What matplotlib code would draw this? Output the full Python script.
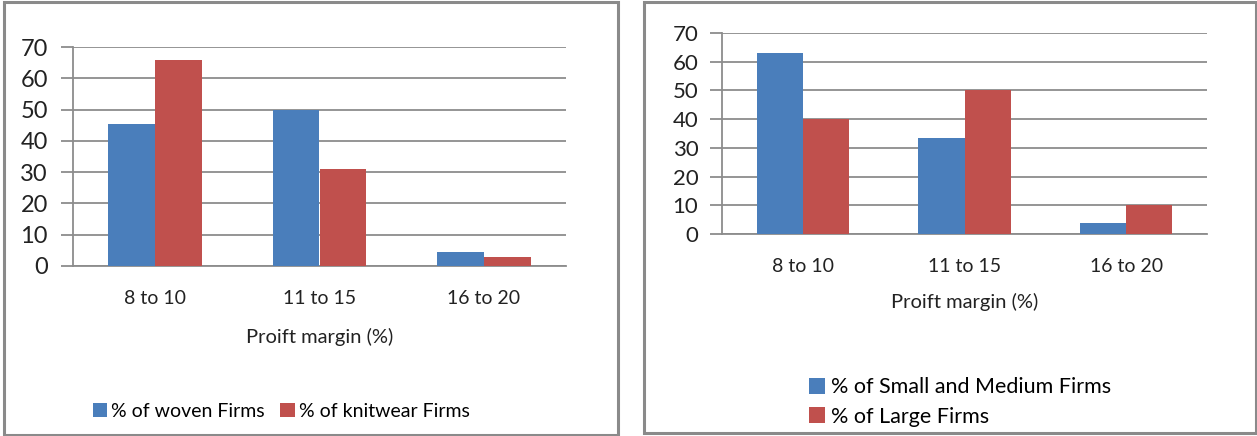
import matplotlib.pyplot as plt
import numpy as np
from matplotlib.patches import Rectangle

plt.rcParams['font.family'] = ['Lato', 'DejaVu Sans']

categories = ['8 to 10', '11 to 15', '16 to 20']
woven = [45.3, 50, 4.5]
knitwear = [66, 31, 3]
small_medium = [63, 33.3, 3.8]
large = [40, 50, 10]

BLUE = '#4a7ebb'
RED = '#c0504d'
GRID = '#8c8c8c'

W, H = 1257, 436
fig = plt.figure(figsize=(W / 100, H / 100), dpi=100)


def px_axes(x0, y0, x1, y1):
    # pixel box (top-left origin) -> figure axes
    return fig.add_axes([x0 / W, 1 - y1 / H, (x1 - x0) / W, (y1 - y0) / H])


def panel(x0, y0, x1, y1):
    fig.patches.append(Rectangle((x0 / W, 1 - y1 / H), (x1 - x0) / W, (y1 - y0) / H,
                                 transform=fig.transFigure, fill=False,
                                 edgecolor='#8a8a8a', linewidth=2.2))


def bars(ax, s1, s2, l1, l2, ytick_size, pad, xlab_pad):
    x = np.arange(len(categories))
    w = 0.286
    b1 = ax.bar(x - w / 2, s1, w, color=BLUE, label=l1, zorder=3)
    b2 = ax.bar(x + w / 2, s2, w, color=RED, label=l2, zorder=3)
    ax.set_xlim(-0.5, 2.5)
    ax.set_ylim(0, 70)
    ax.set_yticks(range(0, 71, 10))
    ax.yaxis.grid(True, color=GRID, linewidth=1.3, zorder=0)
    for s in ['top', 'right']:
        ax.spines[s].set_visible(False)
    ax.spines['left'].set_color(GRID)
    ax.spines['bottom'].set_color(GRID)
    ax.spines['left'].set_linewidth(1.3)
    ax.spines['bottom'].set_linewidth(1.3)
    ax.tick_params(axis='y', length=9, color=GRID, width=1.3,
                   labelsize=ytick_size, pad=pad, labelcolor='#222222')
    ax.set_xticks(x)
    ax.set_xticklabels(categories)
    ax.tick_params(axis='x', length=0, labelsize=14, pad=17, labelcolor='#222222')
    ax.set_xlabel('Proift margin (%)', fontsize=14.5, labelpad=xlab_pad, color='#222222')
    return b1, b2


panel(4, 2, 618, 435)
panel(644, 2, 1256, 433)

ax1 = px_axes(73, 47, 566, 266)
h1 = bars(ax1, woven, knitwear, '% of woven Firms', '% of knitwear Firms', 17, 9, 15)
fig.legend(handles=list(h1), loc='center left', bbox_to_anchor=(83 / W, 1 - 411 / H),
           ncol=2, frameon=False, fontsize=14, handlelength=0.75, handleheight=0.75,
           handletextpad=0.2, columnspacing=0.8, borderpad=0)

ax2 = px_axes(722, 33, 1207, 234)
h2 = bars(ax2, small_medium, large, '% of Small and Medium Firms', '% of Large Firms', 16, 8, 13)
fig.legend(handles=list(h2), loc='center left', bbox_to_anchor=(798 / W, 1 - 402 / H),
           ncol=1, frameon=False, fontsize=15.5, handlelength=0.75, handleheight=0.75,
           handletextpad=0.3, labelspacing=0.45, borderpad=0)

fig.savefig('out.png', dpi=100)
